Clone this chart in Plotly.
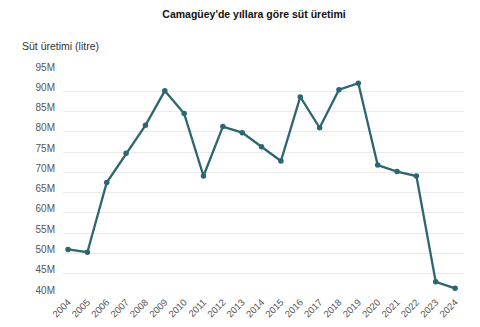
import plotly.graph_objects as go

years = list(range(2004, 2025))
production = [51.0e6, 50.3e6, 67.5e6, 74.7e6, 81.6e6, 90.1e6, 84.5e6, 69.1e6, 81.3e6, 79.8e6,
              76.3e6, 72.8e6, 88.6e6, 81.0e6, 90.4e6, 92.0e6, 71.8e6, 70.2e6, 69.1e6, 43.0e6, 41.4e6]
y_tick_vals = [40e6, 45e6, 50e6, 55e6, 60e6, 65e6, 70e6, 75e6, 80e6, 85e6, 90e6, 95e6]
y_tick_text = ["40M", "45M", "50M", "55M", "60M", "65M", "70M", "75M", "80M", "85M", "90M", "95M"]
x_tick_text = [str(y) for y in years]

FONT = "Liberation Sans, Arial, Helvetica, sans-serif"
COLOR = "#2d6670"

fig = go.Figure()
fig.add_trace(go.Scatter(
    x=years, y=production, mode="lines+markers",
    line=dict(color=COLOR, width=2.3),
    marker=dict(color=COLOR, size=5.5),
    hoverinfo="skip",
))

fig.update_layout(
    width=480, height=327,
    margin=dict(l=63, r=16, t=71, b=33, autoexpand=False),
    paper_bgcolor="white", plot_bgcolor="white",
    showlegend=False,
    font=dict(family=FONT, color="#555555"),
    title=dict(text="<b>Camagüey'de yıllara göre süt üretimi</b>",
               x=254 / 480, xref="container", xanchor="center", y=1 - 14 / 327, yanchor="middle",
               font=dict(family=FONT, size=10.5, color="#111111")),
    xaxis=dict(
        range=[2003.74, 2024.46], tickvals=years, ticktext=x_tick_text,
        tickangle=-45, tickfont=dict(size=9.5, color="#555555"),
        showgrid=False, zeroline=False, showline=False, ticks="",
        fixedrange=True,
    ),
    yaxis=dict(
        range=[40e6, 95e6], tickvals=y_tick_vals, ticktext=y_tick_text,
        tickfont=dict(size=10, color="#555555"),
        showgrid=True, gridcolor="#ebebeb", gridwidth=1,
        zeroline=False, showline=False, ticks="",
        ticklabelstandoff=7, ticklabelshift=-4,
        fixedrange=True,
    ),
    annotations=[dict(
        text="Süt üretimi (litre)", xref="paper", yref="paper",
        x=(20 - 63) / 401, xanchor="left", y=1 + 25 / 223, yanchor="middle",
        showarrow=False, font=dict(family=FONT, size=10.5, color="#333333"),
    )],
)

fig.write_html("out.html")
